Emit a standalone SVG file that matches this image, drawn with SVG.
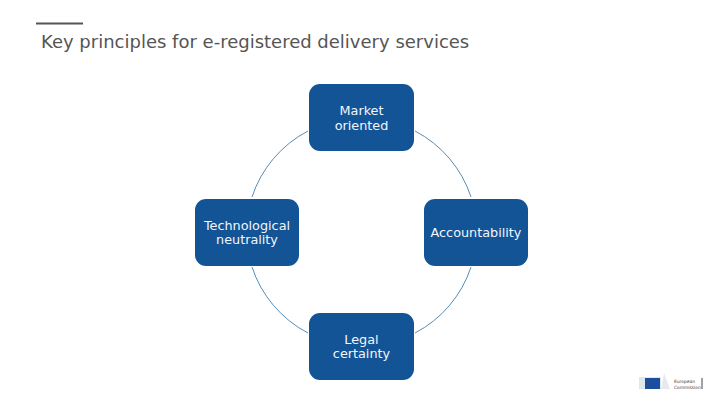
<svg xmlns="http://www.w3.org/2000/svg" width="720" height="405" viewBox="0 0 720 405">
<style>
.n{fill:#135497}
.t{font-family:"DejaVu Sans",sans-serif;font-size:12.8px;fill:#f2f6fa;text-anchor:middle}
.c{fill:none;stroke:#2f6f9f;stroke-width:0.8}
.title{font-family:"DejaVu Sans",sans-serif;font-size:18px;fill:#555}
.l{font-family:"DejaVu Sans",sans-serif;font-size:4.4px;fill:#444}
</style>
<rect width="720" height="405" fill="#fff"/>
<line x1="36" y1="23.5" x2="83" y2="23.5" stroke="#555" stroke-width="2"/>
<text class="title" x="41" y="48">Key principles for e-registered delivery services</text>
<g id="connectors">
<path class="c" d="M308 131A115 115 0 0 0 252 197"/>
<path class="c" d="M415 131A115 115 0 0 1 471 197"/>
<path class="c" d="M252 267A115 115 0 0 0 308 333"/>
<path class="c" d="M471 267A115 115 0 0 1 415 333"/>
</g>
<g id="market"><rect class="n" x="309" y="84" width="105" height="67" rx="11"/><text class="t" x="361.500" y="115">Market</text><text class="t" x="361.500" y="130">oriented</text></g>
<g id="tech"><rect class="n" x="195" y="199" width="104" height="67" rx="11"/><text class="t" x="247" y="230">Technological</text><text class="t" x="247" y="244">neutrality</text></g>
<g id="account"><rect class="n" x="424" y="199" width="104" height="67" rx="11"/><text class="t" x="476" y="237">Accountability</text></g>
<g id="legal"><rect class="n" x="309" y="313" width="105" height="67" rx="11"/><text class="t" x="361.500" y="344">Legal</text><text class="t" x="361.500" y="358">certainty</text></g>
<g id="logo">
<rect x="639" y="377" width="22" height="12" fill="#dfe6ee"/>
<rect x="645" y="378" width="15" height="11" fill="#1b4f9c"/>
<path d="M661 389L664 373L670 389Z" fill="#e6e9ee"/>
<text class="l" x="674" y="383">European</text>
<text class="l" x="674" y="388.500">Commission</text>
<line x1="702" y1="378" x2="702" y2="389" stroke="#444" stroke-width="1"/>
</g>
</svg>
